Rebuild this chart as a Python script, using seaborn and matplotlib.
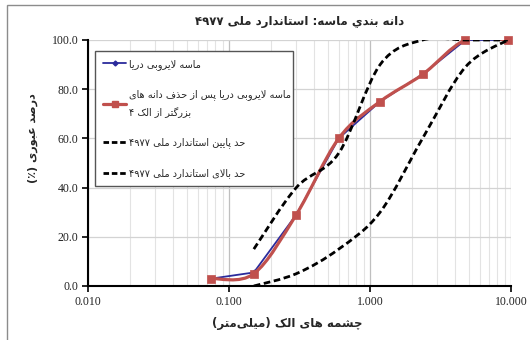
import numpy as np
import matplotlib
matplotlib.use("Agg")
import matplotlib.pyplot as plt
import seaborn as sns
from matplotlib.path import Path
from matplotlib.patches import PathPatch, Rectangle
from matplotlib.lines import Line2D
from matplotlib.ticker import FixedLocator, FuncFormatter, LogLocator, NullFormatter

# ---------------- data ----------------
sieve_mm = [0.075, 0.15, 0.3, 0.6, 1.18, 2.36, 4.75, 9.5]
dredged_sand = [3, 5.5, 29, 60, 75, 86, 100, 100]
dredged_sand_sieved = [3, 5, 29, 60, 75, 86, 100, 100]

limit_sieve = [0.15, 0.3, 0.6, 1.18, 2.36, 4.75, 9.5]
lower_limit = [0, 5, 15, 30, 60, 89, 100]
upper_limit = [15, 40, 54, 90, 100, 100, 100]

x_ticks = [0.01, 0.1, 1, 10]
y_ticks = [0, 20, 40, 60, 80, 100]

title_text = "دانه بندي ماسه: استاندارد ملی ۴۹۷۷"
xlabel_text = "چشمه های الک (میلی\u200cمتر)"
ylabel_text = "درصد عبوری (٪)"
legend_labels = [
    "ماسه لایروبی دریا",
    "ماسه لایروبی دریا پس از حذف دانه های\nبزرگتر از الک ۴",
    "حد پایین استاندارد ملی ۴۹۷۷",
    "حد بالای استاندارد ملی ۴۹۷۷",
]

# ---------------- Persian shaping (presentation forms + visual order) ----------------
FORMS = {
    '\u0627': ('\uFE8D', '\uFE8E', None, None),
    '\u0628': ('\uFE8F', '\uFE90', '\uFE91', '\uFE92'),
    '\u062A': ('\uFE95', '\uFE96', '\uFE97', '\uFE98'),
    '\u062B': ('\uFE99', '\uFE9A', '\uFE9B', '\uFE9C'),
    '\u062C': ('\uFE9D', '\uFE9E', '\uFE9F', '\uFEA0'),
    '\u062D': ('\uFEA1', '\uFEA2', '\uFEA3', '\uFEA4'),
    '\u062E': ('\uFEA5', '\uFEA6', '\uFEA7', '\uFEA8'),
    '\u062F': ('\uFEA9', '\uFEAA', None, None),
    '\u0630': ('\uFEAB', '\uFEAC', None, None),
    '\u0631': ('\uFEAD', '\uFEAE', None, None),
    '\u0632': ('\uFEAF', '\uFEB0', None, None),
    '\u0633': ('\uFEB1', '\uFEB2', '\uFEB3', '\uFEB4'),
    '\u0634': ('\uFEB5', '\uFEB6', '\uFEB7', '\uFEB8'),
    '\u0635': ('\uFEB9', '\uFEBA', '\uFEBB', '\uFEBC'),
    '\u0636': ('\uFEBD', '\uFEBE', '\uFEBF', '\uFEC0'),
    '\u0637': ('\uFEC1', '\uFEC2', '\uFEC3', '\uFEC4'),
    '\u0638': ('\uFEC5', '\uFEC6', '\uFEC7', '\uFEC8'),
    '\u0639': ('\uFEC9', '\uFECA', '\uFECB', '\uFECC'),
    '\u063A': ('\uFECD', '\uFECE', '\uFECF', '\uFED0'),
    '\u0641': ('\uFED1', '\uFED2', '\uFED3', '\uFED4'),
    '\u0642': ('\uFED5', '\uFED6', '\uFED7', '\uFED8'),
    '\u0643': ('\uFED9', '\uFEDA', '\uFEDB', '\uFEDC'),
    '\u0644': ('\uFEDD', '\uFEDE', '\uFEDF', '\uFEE0'),
    '\u0645': ('\uFEE1', '\uFEE2', '\uFEE3', '\uFEE4'),
    '\u0646': ('\uFEE5', '\uFEE6', '\uFEE7', '\uFEE8'),
    '\u0647': ('\uFEE9', '\uFEEA', '\uFEEB', '\uFEEC'),
    '\u0648': ('\uFEED', '\uFEEE', None, None),
    '\u0649': ('\uFEEF', '\uFEF0', None, None),
    '\u064A': ('\uFEF1', '\uFEF2', '\uFEF3', '\uFEF4'),
    '\u067E': ('\uFB56', '\uFB57', '\uFB58', '\uFB59'),
    '\u0686': ('\uFB7A', '\uFB7B', '\uFB7C', '\uFB7D'),
    '\u0698': ('\uFB8A', '\uFB8B', None, None),
    '\u06A9': ('\uFB8E', '\uFB8F', '\uFB90', '\uFB91'),
    '\u06AF': ('\uFB92', '\uFB93', '\uFB94', '\uFB95'),
    '\u06CC': ('\uFBFC', '\uFBFD', '\uFBFE', '\uFBFF'),
}
DIGITS = set("0123456789۰۱۲۳۴۵۶۷۸۹")
MIRROR = {'(': ')', ')': '('}


def _joins_next(c):
    return c in FORMS and FORMS[c][2] is not None


def shape_line(s):
    chars = list(s)
    n = len(chars)
    out = []
    i = 0
    while i < n:
        c = chars[i]
        if c == '\u200c':
            i += 1
            continue
        if c in FORMS:
            prev = chars[i - 1] if i > 0 else ''
            pj = _joins_next(prev)
            if c == '\u0644' and i + 1 < n and chars[i + 1] == '\u0627':
                out.append('\uFEFC' if pj else '\uFEFB')
                i += 2
                continue
            nxt = chars[i + 1] if i + 1 < n else ''
            iso, fin, ini, med = FORMS[c]
            nj = (nxt in FORMS) and ini is not None
            if ini is None:
                out.append(fin if pj else iso)
            elif pj and nj:
                out.append(med)
            elif pj:
                out.append(fin)
            elif nj:
                out.append(ini)
            else:
                out.append(iso)
        else:
            out.append(c)
        i += 1
    runs = []
    for ch in out:
        isd = ch in DIGITS
        if runs and runs[-1][0] == isd:
            runs[-1][1].append(ch)
        else:
            runs.append([isd, [ch]])
    vis = []
    for isd, r in reversed(runs):
        if isd:
            vis.extend(r)
        else:
            vis.extend(MIRROR.get(ch, ch) for ch in reversed(r))
    return ''.join(vis)


def fa(s):
    return '\n'.join(shape_line(line) for line in s.split('\n'))


# ---------------- smooth (Excel-like) curve through data ----------------
def smooth_path(xs, ys):
    lx = np.log10(np.asarray(xs, float))
    yy = np.asarray(ys, float)
    P = np.column_stack([lx, yy])
    n = len(P)
    verts = [P[0]]
    codes = [Path.MOVETO]
    for i in range(n - 1):
        p_prev = P[i - 1] if i > 0 else P[i]
        p_next2 = P[i + 2] if i + 2 < n else P[i + 1]
        c1 = P[i] + (P[i + 1] - p_prev) / 6.0
        c2 = P[i + 1] - (p_next2 - P[i]) / 6.0
        verts += [c1, c2, P[i + 1]]
        codes += [Path.CURVE4] * 3
    verts = np.array(verts)
    verts[:, 0] = 10 ** verts[:, 0]
    return Path(verts, codes)


# ---------------- figure ----------------
sns.set_style("white")
plt.rcParams['font.family'] = ['DejaVu Sans']

RED = '#C0504D'
BLUE = '#2B2B9C'

fig = plt.figure(figsize=(5.3, 3.4), dpi=100)
ax = fig.add_axes([88 / 530, 1 - 286 / 340, 423 / 530, 246 / 340])
ax.set_xscale('log')
ax.set_xlim(0.01, 10)
ax.set_ylim(0, 100)

# grid
ax.xaxis.set_major_locator(FixedLocator(x_ticks))
ax.xaxis.set_minor_locator(LogLocator(base=10, subs=np.arange(2, 10)))
ax.xaxis.set_minor_formatter(NullFormatter())
ax.yaxis.set_major_locator(FixedLocator(y_ticks))
ax.grid(which='major', axis='x', color='#BFBFBF', lw=0.9)
ax.grid(which='minor', axis='x', color='#E3E3E3', lw=0.8)
ax.grid(which='major', axis='y', color='#D3D3D3', lw=0.9)
ax.set_axisbelow(True)

# series
sns.lineplot(x=sieve_mm, y=dredged_sand, ax=ax, color=BLUE, lw=1.3,
             marker='D', markersize=2.5, markeredgecolor=BLUE,
             estimator=None, sort=False, zorder=2)

ax.add_patch(PathPatch(smooth_path(sieve_mm, dredged_sand_sieved), fill=False,
                       ec=RED, lw=2.3, zorder=3, capstyle='butt'))
sns.scatterplot(x=sieve_mm, y=dredged_sand_sieved, ax=ax, color=RED, marker='s',
                s=30, edgecolor=RED, linewidth=0.5, zorder=3.5, clip_on=False)

dash = (0, (2.4, 1.3))
ax.add_patch(PathPatch(smooth_path(limit_sieve, lower_limit), fill=False,
                       ec='black', lw=2.0, ls=dash, zorder=4))
ax.add_patch(PathPatch(smooth_path(limit_sieve, upper_limit), fill=False,
                       ec='black', lw=2.0, ls=dash, zorder=4))

# axes styling
for side in ('top', 'right'):
    ax.spines[side].set_visible(False)
for side in ('left', 'bottom'):
    ax.spines[side].set_color('black')
    ax.spines[side].set_linewidth(1.5)
ax.tick_params(axis='both', which='major', direction='out', length=4, width=1.2,
               color='black', pad=3, bottom=True, left=True)
ax.tick_params(axis='x', which='minor', length=0)
ax.xaxis.set_major_formatter(FuncFormatter(lambda v, p: f"{v:.3f}"))
ax.yaxis.set_major_formatter(FuncFormatter(lambda v, p: f"{v:.1f}"))
for lab in ax.get_xticklabels() + ax.get_yticklabels():
    lab.set_fontfamily('Liberation Serif')
    lab.set_fontsize(8.5)
    lab.set_color('#222222')

ax.set_title(fa(title_text), fontsize=8.5, fontweight='bold', pad=11)
ax.set_xlabel(fa(xlabel_text), fontsize=8.5, fontweight='bold')
ax.xaxis.set_label_coords(0.47, -0.125)
ax.set_ylabel(fa(ylabel_text), fontsize=8, fontweight='bold')
ax.yaxis.set_label_coords(-0.118, 0.6)

# legend
handles = [
    Line2D([], [], color=BLUE, lw=1.3, marker='D', markersize=2.5),
    Line2D([], [], color=RED, lw=2.3, marker='s', markersize=5),
    Line2D([], [], color='black', lw=2.0, ls=(0, (2.0, 1.0))),
    Line2D([], [], color='black', lw=2.0, ls=(0, (2.0, 1.0))),
]
leg = ax.legend(handles, [fa(t) for t in legend_labels], loc='upper left',
                bbox_to_anchor=(0.017, 0.955, 0.468, 0.0), mode='expand',
                borderaxespad=0, fontsize=7, frameon=True, fancybox=False,
                handlelength=2.4, handletextpad=0.25, labelspacing=2.0,
                borderpad=0.8)
leg.get_frame().set_edgecolor('#555555')
leg.get_frame().set_linewidth(1.0)
leg.get_frame().set_facecolor('white')
leg.get_frame().set_alpha(1)
for t in leg.get_texts():
    t.set_linespacing(1.8)
leg.set_zorder(10)

# chart-area border
fig.patches.append(Rectangle((7 / 530, -0.1), 1.5, 1.1 - 5 / 340, transform=fig.transFigure,
                             fill=False, ec='#8C8C8C', lw=1.0))

fig.savefig('out.png', dpi=100)
